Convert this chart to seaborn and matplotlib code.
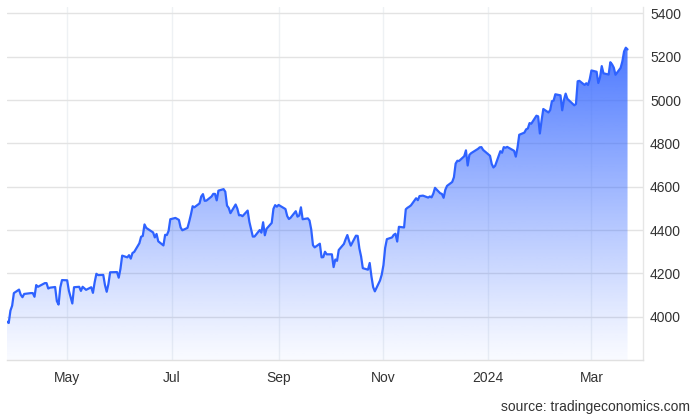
import numpy as np
import pandas as pd
import seaborn as sns
import matplotlib.pyplot as plt
import matplotlib.dates as mdates
from matplotlib.colors import to_rgb

# --- du lieu: chi so dong cua theo ngay (doc tu bieu do) ---
start_date = "2023-03-27"
end_date = "2024-03-22"
holidays = ["2023-04-07", "2023-05-29", "2023-06-19", "2023-07-04", "2023-09-04",
            "2023-11-23", "2023-12-25", "2024-01-01", "2024-01-15", "2024-02-19"]
closes = [
    3977, 3971, 4028, 4051, 4109, 4125, 4101, 4090, 4105, 4109, 4109, 4092, 4146, 4138,
    4151, 4155, 4155, 4130, 4134, 4137, 4072, 4056, 4135, 4169,
    4168, 4120, 4091, 4061, 4136, 4138, 4119, 4138, 4131, 4124, 4136, 4110, 4159, 4198,
    4192, 4193, 4146, 4115, 4151, 4205, 4206, 4180,
    4221, 4282, 4274, 4284, 4268, 4294, 4299, 4339, 4369, 4373, 4426, 4410, 4389, 4366,
    4382, 4348, 4329, 4378, 4377, 4396, 4450,
    4456, 4447, 4412, 4399, 4410, 4439, 4472, 4510, 4505, 4523, 4555, 4566, 4535, 4536,
    4555, 4567, 4567, 4537, 4582, 4589,
    4577, 4513, 4502, 4478, 4518, 4499, 4468, 4469, 4464, 4490, 4438, 4404, 4370, 4370,
    4400, 4388, 4436, 4376, 4406, 4433, 4498, 4515, 4508,
    4516, 4497, 4465, 4451, 4457, 4487, 4462, 4467, 4505, 4450, 4454, 4444, 4402, 4330,
    4320, 4337, 4274, 4275, 4300, 4288,
    4288, 4229, 4264, 4258, 4308, 4336, 4358, 4377, 4350, 4328, 4374, 4373, 4315, 4278,
    4224, 4217, 4248, 4187, 4137, 4117, 4167, 4194,
    4238, 4318, 4358, 4366, 4378, 4383, 4347, 4415, 4412, 4496, 4503, 4508, 4514, 4547,
    4538, 4557, 4559, 4550, 4555, 4551, 4568,
    4595, 4570, 4567, 4549, 4586, 4604, 4622, 4644, 4707, 4720, 4719, 4741, 4768, 4698,
    4747, 4755, 4775, 4782, 4783, 4770,
    4743, 4705, 4689, 4697, 4764, 4757, 4783, 4780, 4784, 4766, 4739, 4781, 4840, 4850,
    4865, 4869, 4894, 4891, 4928, 4925, 4846,
    4906, 4959, 4943, 4954, 4995, 4998, 5027, 5022, 4953, 5001, 5030, 5006, 4976, 4982,
    5087, 5089, 5070, 5078, 5070, 5096,
    5137, 5131, 5079, 5105, 5157, 5124, 5118, 5175, 5165, 5150, 5117, 5149, 5179, 5225,
    5242, 5234,
]
y_ticks = [4000, 4200, 4400, 4600, 4800, 5000, 5200, 5400]
x_ticks = ["2023-05-01", "2023-07-01", "2023-09-01", "2023-11-01", "2024-01-01", "2024-03-01"]
x_labels = ["May", "Jul", "Sep", "Nov", "2024", "Mar"]

dates = pd.bdate_range(start_date, end_date)
dates = dates[~dates.isin(pd.to_datetime(holidays))]
df = pd.DataFrame({"date": dates[:len(closes)], "close": closes})

sns.set_theme(style="whitegrid")
plt.rcParams["font.family"] = ["Liberation Sans", "DejaVu Sans"]

blue = "#2e62ff"
fig = plt.figure(figsize=(7, 4.17), dpi=100)
ax = fig.add_axes([7 / 700, 57 / 417, 636 / 700, 353 / 417])

ymin, ymax = 3800, 5430
xmin = df["date"].iloc[0]
xmax = pd.Timestamp("2024-03-31")

# vung to mau chuyen sac (dam o tren, nhat o duoi)
poly = ax.fill_between(df["date"], df["close"], ymin, color="none", lw=0)
n = 256
frac = np.linspace(0, 1, n)[:, None]  # 0 = duoi, 1 = tren
alpha = 0.03 + 0.95 * frac ** 1.1
grad = np.zeros((n, 1, 4))
grad[:, :, :3] = to_rgb("#3366ff")
grad[:, :, 3] = alpha
im = ax.imshow(grad, aspect="auto", origin="lower",
               extent=[mdates.date2num(xmin), mdates.date2num(xmax), ymin, 5400],
               zorder=2)
im.set_clip_path(poly.get_paths()[0], transform=ax.transData)

sns.lineplot(data=df, x="date", y="close", ax=ax, color=blue, lw=1.6, zorder=3,
             solid_joinstyle="round", solid_capstyle="round")

ax.set_xlim(xmin, xmax)
ax.set_ylim(ymin, ymax)
ax.yaxis.tick_right()
ax.set_yticks(y_ticks)
ax.set_xticks(pd.to_datetime(x_ticks))
ax.set_xticklabels(x_labels)
ax.tick_params(axis="both", length=0, labelsize=10, colors="#333333")
ax.tick_params(axis="x", pad=8)
ax.tick_params(axis="y", pad=5)
ax.set_xlabel("")
ax.set_ylabel("")

ax.grid(axis="y", color="#e3e3e3", lw=1)
ax.grid(axis="x", color="#eef1f4", lw=1)
for side in ["top", "left"]:
    ax.spines[side].set_visible(False)
ax.spines["right"].set_color("#e6e6e6")
ax.spines["bottom"].set_color("#e0e0e0")
ax.spines["right"].set_linewidth(1)
ax.spines["bottom"].set_linewidth(1)

fig.text(690 / 700, 1 - 407 / 417, "source: tradingeconomics.com", ha="right", va="center",
         fontsize=10, color="#333333")

fig.savefig("out.png", dpi=100)
